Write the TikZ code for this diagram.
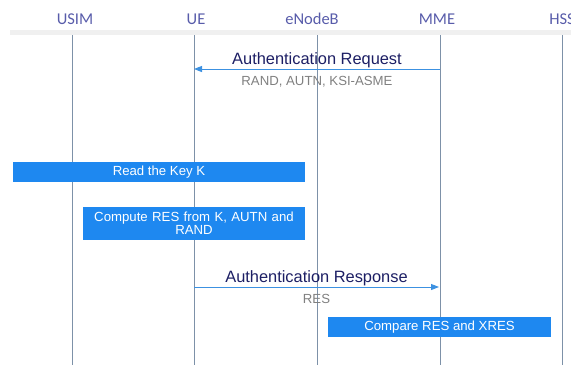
\documentclass[tikz,border=0pt]{standalone}
\usepackage{fontspec}
\setmainfont{Liberation Sans}
\newfontfamily\headfont{Carlito}
\definecolor{boxBlue}{RGB}{30, 136, 240}
\definecolor{msgBlue}{RGB}{60, 145, 225}
\definecolor{lifeGray}{RGB}{125, 145, 168}
\definecolor{headPurple}{RGB}{88, 92, 170}
\definecolor{msgNavy}{RGB}{28, 30, 100}
\usetikzlibrary{arrows.meta, positioning}

\begin{document}
\begin{tikzpicture}[x=1pt, y=-1pt,
  actor/.style={font=\headfont\fontsize{16.5}{18}\selectfont, text=headPurple,
                anchor=base},
  life/.style={draw=lifeGray, line width=0.8pt},
  msg/.style={-{Triangle[length=8pt, width=6pt]}, draw=msgBlue, line width=1pt},
  msglab/.style={font=\fontsize{16.4}{18}\selectfont, text=msgNavy,
                 anchor=base, yshift=5pt},
  paramlab/.style={font=\fontsize{13.2}{15}\selectfont, text=black!50,
                   anchor=base, yshift=-16pt},
  action/.style={rectangle, fill=boxBlue, text=white, align=center,
                 font=\fontsize{13.2}{13}\selectfont, inner sep=1pt},
]
  \useasboundingbox (0,0) rectangle (571,365);

  % header band
  \fill[black!6] (10,30) rectangle (571,35);

  % actors
  \node[actor] (usim) at (75,24.5) {USIM};
  \node[actor] (ue) at (196,24.5) {UE};
  \node[actor] (enb) at (312,24.5) {eNodeB};
  \node[actor] (mme) at (437,24.5) {MME};
  \node[actor] (hss) at (562,24.5) {HSS};

  % lifelines
  \foreach \name/\x in {usim/72, ue/194, enb/317, mme/440, hss/562} {
    \coordinate (\name-top) at (\x,35);
    \coordinate (\name-end) at (\x,365);
    \draw[life] (\name-top) -- (\name-end);
  }

  % authentication request
  \coordinate (mme-req) at (440,69);
  \coordinate (ue-req) at (194,69);
  \draw[msg] (mme-req) -- (ue-req)
    node[msglab, midway] (reqlab) {Authentication Request}
    node[paramlab, midway] (reqpar) {RAND, AUTN, KSI-ASME};

  % usim actions
  \node[action, minimum width=292pt, minimum height=20pt] (readk)
    at (159,172) {Read the Key K};
  \node[action, minimum width=222pt, minimum height=33pt, text width=215pt] (compres)
    at (194,223.5) {Compute RES from K, AUTN and\\RAND};

  % authentication response
  \coordinate (ue-resp) at (194,287);
  \coordinate (mme-resp) at (439,287);
  \draw[msg] (ue-resp) -- (mme-resp)
    node[msglab, midway] (resplab) {Authentication Response}
    node[paramlab, midway] (resppar) {RES};

  % mme check
  \node[action, minimum width=223pt, minimum height=20pt] (cmpres)
    at (439.5,327) {Compare RES and XRES};
\end{tikzpicture}
\end{document}
